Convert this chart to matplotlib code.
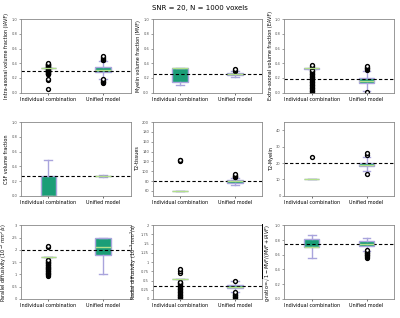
from matplotlib import pyplot as plt
import numpy as np

plt.rcParams['mathtext.fontset'] = 'dejavusans'

methods = ['Individual combination', 'Unified model']

ylabels = ['Intra-axonal volume fraction (IAVF)',
           'Myelin volume fraction (MVF)',
           'Extra-axonal volume fraction (EAVF)',
           'CSF volume fraction',
           'T2-tissues',
           'T2-Myelin',
           r'Parallel diffusivity $(10^{-3}\,mm^2/s)$',
           r'Radial diffusivity $(10^{-3}\,mm^2/s)$',
           r'g-ratio=$\sqrt{1-MVF/(MVF+IAVF)}$']

ground_truth = [0.30, 0.25, 0.18, 0.27, 80, 20, 2.0, 0.35, 0.74]

# per panel: [individual, unified]
q1 = [[0.33, 0.28], [0.15, 0.24], [0.32, 0.13], [0.0, 0.265], [60, 77], [10, 18], [1.70, 1.78], [0.55, 0.30], [0.70, 0.72]]
med = [[0.33, 0.31], [0.33, 0.25], [0.33, 0.16], [0.0, 0.27], [60, 80], [10, 19], [1.70, 2.12], [0.55, 0.33], [0.70, 0.75]]
q3 = [[0.33, 0.35], [0.33, 0.27], [0.33, 0.20], [0.27, 0.275], [60, 82], [10, 20], [1.70, 2.50], [0.55, 0.37], [0.82, 0.78]]
whis_lo = [[0.33, 0.19], [0.10, 0.22], [0.32, 0.02], [0.0, 0.26], [60, 72], [10, 15], [1.70, 1.00], [0.55, 0.20], [0.55, 0.65]]
whis_hi = [[0.33, 0.43], [0.33, 0.29], [0.33, 0.30], [0.48, 0.28], [60, 86], [10, 24], [1.70, 2.50], [0.55, 0.48], [0.87, 0.83]]
fliers = [
    [[0.05, 0.17, 0.18, 0.25, 0.255, 0.26, 0.265, 0.27, 0.275, 0.28, 0.285, 0.29, 0.295, 0.30,
      0.305, 0.31, 0.315, 0.32, 0.325, 0.335, 0.34, 0.345, 0.35, 0.355, 0.36, 0.365, 0.37,
      0.375, 0.38, 0.385, 0.39, 0.395, 0.40],
     [0.13, 0.14, 0.15, 0.16, 0.17, 0.18, 0.44, 0.45, 0.46, 0.47, 0.48, 0.50]],
    [[], [0.30, 0.31, 0.32]],
    [[0.0, 0.01, 0.02, 0.03, 0.04, 0.05, 0.06, 0.07, 0.08, 0.09, 0.10, 0.11, 0.12, 0.13, 0.14,
      0.15, 0.16, 0.17, 0.18, 0.19, 0.20, 0.21, 0.22, 0.23, 0.24, 0.25, 0.26, 0.27, 0.28, 0.29,
      0.30, 0.31, 0.35, 0.36, 0.37],
     [0.01, 0.31, 0.32, 0.33, 0.34, 0.35, 0.36]],
    [[], []],
    [[121, 122, 123], [88, 89, 90, 91, 92, 95]],
    [[23.5], [13.5, 25, 26]],
    [[0.95, 0.97, 1.0, 1.02, 1.05, 1.07, 1.1, 1.12, 1.15, 1.17, 1.2, 1.22, 1.25, 1.27, 1.3, 1.32,
      1.35, 1.37, 1.4, 1.42, 1.45, 1.47, 1.5, 1.52, 1.55, 1.57, 1.6, 2.1, 2.15], []],
    [[0.0, 0.02, 0.04, 0.06, 0.08, 0.10, 0.12, 0.14, 0.16, 0.18, 0.20, 0.22, 0.24, 0.26, 0.28,
      0.30, 0.32, 0.34, 0.36, 0.38, 0.40, 0.42, 0.44, 0.46, 0.47, 0.70, 0.75, 0.80],
     [0.0, 0.02, 0.04, 0.06, 0.08, 0.10, 0.12, 0.14, 0.16, 0.18, 0.50]],
    [[], [0.56, 0.57, 0.58, 0.59, 0.60, 0.61, 0.62, 0.63, 0.64, 0.65, 0.66]],
]

ylims = [(0, 1), (0, 1), (0, 1), (0, 1), (50, 200), (0, 45), (0, 3), (0, 2), (0, 1)]
yticks = [np.arange(0, 1.01, 0.2)] * 4 + [np.arange(60, 201, 20), np.arange(0, 41, 10),
                                         np.arange(0, 3.01, 0.5), np.arange(0, 2.01, 0.25),
                                         np.arange(0, 1.01, 0.2)]
yticklabels = [['%.1f' % v for v in t] for t in yticks[:4]] + \
    [['%d' % v for v in yticks[4]], ['%d' % v for v in yticks[5]],
     ['0', '0.5', '1', '1.5', '2', '2.5', '3'],
     ['0', '0.25', '0.5', '0.75', '1', '1.25', '1.5', '1.75', '2'],
     ['%.1f' % v for v in yticks[8]]]

box_face = '#1b9e77'
box_edge = '#a9a4dc'
median_col = '#b2df8a'

fig, axes = plt.subplots(3, 3, figsize=(4.0, 3.18), dpi=100)
fig.subplots_adjust(left=0.052, right=0.985, top=0.94, bottom=0.06, wspace=0.2, hspace=0.4)

for i, ax in enumerate(axes.flat):
    stats = []
    for j in range(2):
        stats.append(dict(med=med[i][j], q1=q1[i][j], q3=q3[i][j],
                          whislo=whis_lo[i][j], whishi=whis_hi[i][j],
                          fliers=fliers[i][j], label=methods[j]))
    ax.bxp(stats, positions=[1, 2], widths=0.28, patch_artist=True,
           boxprops=dict(facecolor=box_face, edgecolor=box_edge, linewidth=1.0),
           whiskerprops=dict(color=box_edge, linewidth=1.0),
           capprops=dict(color=box_edge, linewidth=1.0),
           medianprops=dict(color=median_col, linewidth=1.0),
           flierprops=dict(marker='o', markerfacecolor='white', markeredgecolor='black',
                           markersize=2.8, markeredgewidth=1.0))
    ax.axhline(ground_truth[i], color='black', linestyle='--', linewidth=0.8, dashes=(3, 2))
    ax.set_xlim(0.5, 2.5)
    ax.set_ylim(*ylims[i])
    ax.set_yticks(yticks[i])
    ax.set_yticklabels(yticklabels[i])
    ax.set_xticks([1, 2])
    ax.set_xticklabels(methods)
    ax.tick_params(axis='y', labelsize=2.6, length=1.5, width=0.4, pad=1, colors='#555555')
    ax.tick_params(axis='x', labelsize=3.5, length=1.5, width=0.4, pad=1.5)
    ax.set_ylabel(ylabels[i], fontsize=3.5, labelpad=1.5)
    for s in ax.spines.values():
        s.set_color('#888888')
        s.set_linewidth(0.6)

fig.suptitle('SNR = 20, N = 1000 voxels', fontsize=5, y=0.985)
plt.savefig('out.png', dpi=100)
